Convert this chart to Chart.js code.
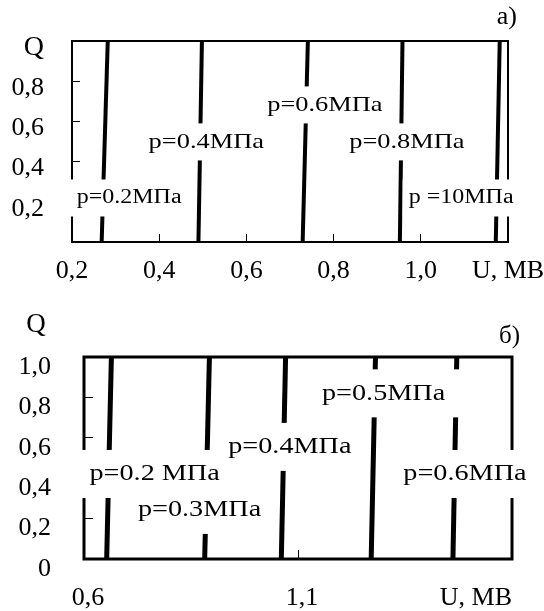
<!DOCTYPE html>
<html>
<head>
<meta charset="utf-8">
<script src="https://cdn.jsdelivr.net/npm/chart.js@4.4.1/dist/chart.umd.min.js"></script>
<style>
  html, body { margin: 0; padding: 0; background: #fff; }
  #wrapA { position: absolute; left: 0; top: 0; width: 544px; height: 290px; }
  #wrapB { position: absolute; left: 0; top: 290px; width: 544px; height: 321px; }
</style>
</head>
<body>
<div id="wrapA"><canvas id="chartA" width="544" height="290"></canvas></div>
<div id="wrapB"><canvas id="chartB" width="544" height="321"></canvas></div>
<script>
/* two panels: Q vs U for several pressures */

// both panels: every pressure line runs from Q=0 to Q=1
const qEnds = [0, 1];

// panel а)
const pressureLabelsA = ['p=0.2МПа', 'p=0.4МПа', 'p=0.6МПа', 'p=0.8МПа', 'p =10МПа'];
const uBottomA = [0.268, 0.490, 0.729, 0.952, 1.172];
const uTopA = [0.282, 0.498, 0.741, 0.958, 1.181];
const labelUA = [0.331, 0.508, 0.780, 0.968, 1.0925];
const labelQA = [0.219, 0.498, 0.682, 0.498, 0.219];
const xTickLabelsA = ['0,2', '0,4', '0,6', '0,8', '1,0', 'U, МВ'];
const yTickLabelsA = ['', '0,2', '0,4', '0,6', '0,8', 'Q'];

// panel б)
const pressureLabelsB = ['p=0.2 МПа', 'p=0.3МПа', 'p=0.4МПа', 'p=0.5МПа', 'p=0.6МПа'];
const uBottomB = [0.653, 0.882, 1.061, 1.271, 1.462];
const uTopB = [0.664, 0.893, 1.071, 1.281, 1.471];
const labelUB = [0.765, 0.870, 1.081, 1.300, 1.490];
const labelQB = [0.421, 0.243, 0.555, 0.820, 0.421];
const xTickLabelsB = ['0,6', '1,1', ''];
const yTickLabelsB = ['0', '0,2', '0,4', '0,6', '0,8', '1,0'];

const FONT = "'Liberation Serif', 'Times New Roman', serif";

// frame around the plot + white-backed labels sitting on the lines
const panelMarks = {
  id: 'panelMarks',
  beforeDatasetsDraw(chart, args, opts) {
    const a = chart.chartArea, ctx = chart.ctx;
    ctx.save();
    ctx.strokeStyle = '#000';
    ctx.lineWidth = opts.frameWidth;
    ctx.strokeRect(a.left, a.top, a.right - a.left, a.bottom - a.top);
    ctx.restore();
  },
  afterDatasetsDraw(chart, args, opts) {
    const ctx = chart.ctx, a = chart.chartArea;
    const xs = chart.scales.x, ys = chart.scales.y;
    const spots = opts.texts.map(function(t, i) {
      return { t: t, x: xs.getPixelForValue(opts.us[i]), y: ys.getPixelForValue(opts.qs[i]), size: opts.sizes[i] };
    });
    ctx.save();
    ctx.textAlign = 'center';
    ctx.textBaseline = 'middle';
    // white boxes first, so a later box never clips an earlier text
    spots.forEach(function(s) {
      ctx.font = s.size + 'px ' + FONT;
      const w = ctx.measureText(s.t).width * opts.stretch + 2 * opts.padX;
      ctx.fillStyle = '#fff';
      ctx.fillRect(s.x - w / 2, s.y - opts.boxH / 2, w, opts.boxH);
    });
    ctx.fillStyle = '#000';
    spots.forEach(function(s) {
      ctx.font = s.size + 'px ' + FONT;
      ctx.save();
      ctx.translate(s.x, s.y);
      ctx.scale(opts.stretch, 1);
      ctx.fillText(s.t, 0, 0);
      ctx.restore();
    });
    // corner notes (panel letter, axis name)
    opts.notes.forEach(function(n) {
      ctx.font = n.size + 'px ' + FONT;
      ctx.textAlign = n.align;
      const x = n.from === 'right' ? a.right + n.dx : a.left + n.dx;
      ctx.fillText(n.text, x, a.top + n.dy);
    });
    ctx.restore();
  },
};

function lineSets(bottom, top, width) {
  return bottom.map(function(u, i) {
    return {
      data: [{ x: u, y: qEnds[0] }, { x: top[i], y: qEnds[1] }],
      showLine: true,
      borderColor: '#000',
      borderWidth: width,
      borderCapStyle: 'butt',
      pointRadius: 0,
    };
  });
}

function noPad(s) {
  s.paddingTop = 0; s.paddingBottom = 0; s.paddingLeft = 0; s.paddingRight = 0;
}

function makeChart(id, cfg) {
  return new Chart(document.getElementById(id), {
    type: 'scatter',
    data: { datasets: lineSets(cfg.bottom, cfg.top, cfg.lineWidth) },
    options: {
      responsive: false,
      animation: false,
      layout: { padding: { top: cfg.padTop, right: cfg.padRight, left: 0, bottom: 0 } },
      plugins: {
        legend: { display: false },
        tooltip: { enabled: false },
        panelMarks: {
          frameWidth: cfg.frameWidth,
          texts: cfg.texts, us: cfg.labelU, qs: cfg.labelQ, sizes: cfg.textSizes,
          stretch: 1.2, boxH: cfg.boxH, padX: cfg.padX,
          notes: cfg.notes,
        },
      },
      scales: {
        x: {
          type: 'linear',
          min: cfg.xMin, max: cfg.xMax,
          afterFit: function(s) { s.height = cfg.xAxisH; noPad(s); },
          border: { display: false },
          grid: { drawOnChartArea: false, drawTicks: true, tickLength: -cfg.tickLen, color: '#000', lineWidth: 1 },
          ticks: {
            stepSize: cfg.xStep, autoSkip: false, maxRotation: 0,
            color: '#000', font: { family: FONT, size: 26 }, padding: cfg.xPad, labelOffset: cfg.xLabelOffset,
            callback: function(v, i) { return cfg.xTicks[i]; },
          },
          title: cfg.xTitle || { display: false },
        },
        y: {
          min: 0, max: 1,
          afterFit: function(s) { s.width = cfg.yAxisW; noPad(s); },
          border: { display: false },
          grid: { drawOnChartArea: false, drawTicks: true, tickLength: -cfg.tickLen, color: '#000', lineWidth: 1 },
          ticks: {
            stepSize: 0.2, autoSkip: false,
            color: '#000', padding: cfg.yPad, labelOffset: cfg.yLabelOffset,
            font: function(ctx) { return { family: FONT, size: cfg.yTicks[ctx.index] === 'Q' ? 28 : 26 }; },
            callback: function(v, i) { return cfg.yTicks[i]; },
          },
        },
      },
    },
    plugins: [panelMarks],
  });
}

makeChart('chartA', {
  bottom: uBottomA, top: uTopA, lineWidth: 4, frameWidth: 2,
  texts: pressureLabelsA, labelU: labelUA, labelQ: labelQA, textSizes: [20, 22, 22, 22, 20],
  boxH: 37, padX: 6,
  notes: [{ text: 'а)', from: 'right', dx: 9, dy: -24, align: 'right', size: 26 }],
  padTop: 41, padRight: 36, xAxisH: 48, yAxisW: 72, tickLen: 8,
  xMin: 0.2, xMax: 1.2, xStep: 0.2, xTicks: xTickLabelsA, xPad: 22, xLabelOffset: 0,
  yTicks: yTickLabelsA, yPad: 36, yLabelOffset: 7,
});

makeChart('chartB', {
  bottom: uBottomB, top: uTopB, lineWidth: 5, frameWidth: 3,
  texts: pressureLabelsB, labelU: labelUB, labelQ: labelQB, textSizes: [23.5, 23.5, 23.5, 23.5, 23.5],
  boxH: 48, padX: 15,
  notes: [
    { text: 'б)', from: 'right', dx: 8, dy: -21, align: 'right', size: 25 },
    { text: 'Q', from: 'left', dx: -48, dy: -32, align: 'center', size: 27 },
  ],
  padTop: 67, padRight: 32, xAxisH: 52, yAxisW: 84, tickLen: 9,
  xMin: 0.6, xMax: 1.6, xStep: 0.5, xTicks: xTickLabelsB, xPad: 33, xLabelOffset: 4,
  xTitle: { display: true, text: 'U, МВ', align: 'end', color: '#000', font: { family: FONT, size: 26 }, padding: { top: 0, bottom: -3 } },
  yTicks: yTickLabelsB, yPad: 42, yLabelOffset: 10,
});
</script>
</body>
</html>
